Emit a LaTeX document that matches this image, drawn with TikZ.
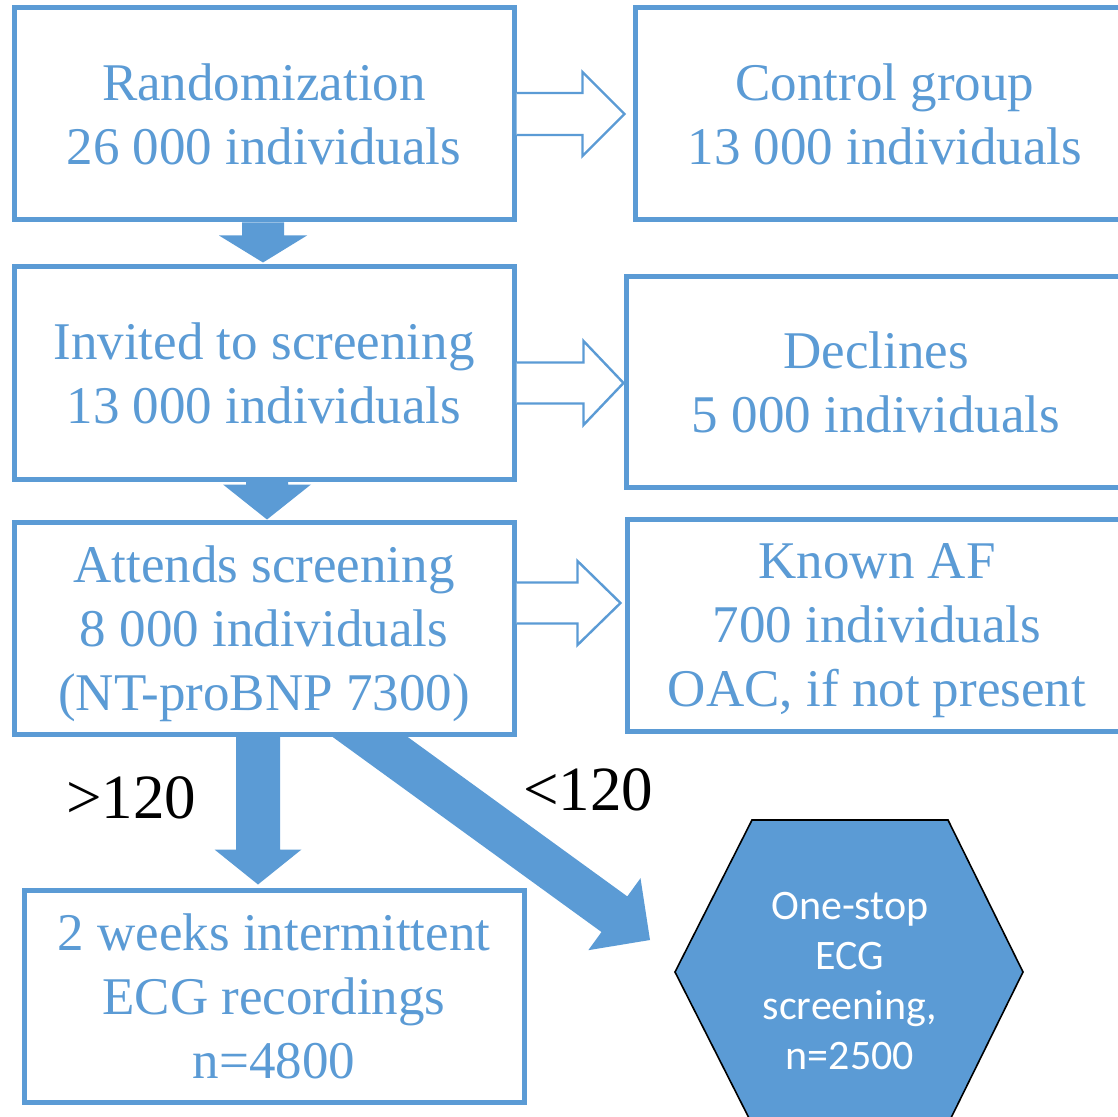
\documentclass[tikz,border=0pt]{standalone}
\usepackage{fontspec}
\setmainfont{Liberation Serif}
\newfontfamily\hexfont{Carlito}
\usetikzlibrary{calc}

\definecolor{flowblue}{RGB}{91,155,213}

\tikzset{
  box/.style={rectangle, draw=flowblue, line width=2.5pt, fill=white, text=flowblue,
    align=center, minimum width=250pt, minimum height=106pt, inner sep=0pt,
    text depth=-2.5pt, font=\fontsize{26.5}{32}\selectfont},
  openarrow/.style={draw=flowblue, line width=1.2pt, fill=white},
  fullarrow/.style={fill=flowblue},
  hexbox/.style={fill=flowblue, draw=black, line width=0.8pt},
  hexlabel/.style={text=white, align=center, inner sep=0pt,
    font=\hexfont\fontsize{21}{25}\selectfont},
  cutoff/.style={inner sep=0pt, anchor=base west, font=\fontsize{31.5}{38}\selectfont}
}

\begin{document}
\begin{tikzpicture}[x=0.5pt, y=-0.5pt]
  \clip (0,0) rectangle (1118,1117);

  % Boxes
  \node (rand) at (264,114) [box] {Randomization\\26 000 individuals};
  \node (ctrl) at (885,114) [box] {Control group\\13 000 individuals};
  \node (invite) at (264,373) [box] {Invited to screening\\13 000 individuals};
  \node (decline) at (876,382) [box, minimum height=105pt] {Declines\\5 000 individuals};
  \node (attend) at (264,628) [box] {Attends screening\\8 000 individuals\\(NT-proBNP 7300)};
  \node (known) at (877,625) [box] {Known AF\\700 individuals\\OAC, if not present};
  \node (ecg) at (274,996) [box] {2 weeks intermittent\\ECG recordings\\n=4800};

  % Hexagon
  \coordinate (hexc) at (849,972);
  \filldraw[hexbox] ($(hexc)+(-97,-152)$) -- ($(hexc)+(99,-152)$) -- ($(hexc)+(174,0)$)
    -- ($(hexc)+(99,152)$) -- ($(hexc)+(-97,152)$) -- ($(hexc)+(-174,0)$) -- cycle;
  \node (hex) at (850,981) [hexlabel] {One-stop\\ECG\\screening,\\n=2500};

  % Side arrows
  \coordinate (t1) at ($(ctrl.west)+(-8,0)$);
  \draw[openarrow] ($(rand.east |- t1)+(0,-21)$) -- ($(t1)+(-42,-21)$) -- ($(t1)+(-42,-42)$)
    -- (t1) -- ($(t1)+(-42,42)$) -- ($(t1)+(-42,21)$) -- ($(rand.east |- t1)+(0,21)$);
  \coordinate (t2) at ($(decline.west)+(0,1)$);
  \draw[openarrow] ($(invite.east |- t2)+(0,-20.5)$) -- ($(t2)+(-40,-20.5)$) -- ($(t2)+(-40,-42)$)
    -- (t2) -- ($(t2)+(-40,42)$) -- ($(t2)+(-40,20.5)$) -- ($(invite.east |- t2)+(0,20.5)$);
  \coordinate (t3) at ($(known.west)+(-4,-22)$);
  \draw[openarrow] ($(attend.east |- t3)+(0,-20.5)$) -- ($(t3)+(-43,-20.5)$) -- ($(t3)+(-43,-42)$)
    -- (t3) -- ($(t3)+(-43,42)$) -- ($(t3)+(-43,20.5)$) -- ($(attend.east |- t3)+(0,20.5)$);

  % Down arrows
  \coordinate (d1) at ($(rand.south)+(-1,0)$);
  \fill[fullarrow] ($(d1)+(-21,0)$) -- ($(d1)+(-21,13)$) -- ($(d1)+(-44,13)$)
    -- ($(invite.north)+(-1,-2)$) -- ($(d1)+(44,13)$) -- ($(d1)+(21,13)$) -- ($(d1)+(21,0)$) -- cycle;
  \coordinate (d2) at ($(invite.south)+(3,0)$);
  \fill[fullarrow] ($(d2)+(-21,0)$) -- ($(d2)+(-21,3)$) -- ($(d2)+(-44,3)$)
    -- ($(attend.north)+(3,0)$) -- ($(d2)+(44,3)$) -- ($(d2)+(21,3)$) -- ($(d2)+(21,0)$) -- cycle;
  \coordinate (d3) at ($(attend.south)+(-6,0)$);
  \fill[fullarrow] ($(d3)+(-22,0)$) -- ($(d3)+(-22,113)$) -- ($(d3)+(-43.5,113)$)
    -- ($(ecg.north)+(-16,-3)$) -- ($(d3)+(43.5,113)$) -- ($(d3)+(22,113)$) -- ($(d3)+(22,0)$) -- cycle;

  % Diagonal arrow
  \coordinate (dtip) at ($(hexc)+(-199,-32)$);
  \fill[fullarrow] ($(attend.south)+(68,0)$) -- ($(dtip)+(-48.5,-8)$) -- ($(dtip)+(-61.7,10.2)$)
    -- (dtip) -- ($(dtip)+(-9.5,-61.8)$) -- ($(dtip)+(-22.7,-43.6)$) -- ($(attend.south)+(143,0)$) -- cycle;

  % Labels
  \node (gt) at (66,818) [cutoff] {>120};
  \node (lt) at (523,810) [cutoff] {<120};
\end{tikzpicture}
\end{document}
